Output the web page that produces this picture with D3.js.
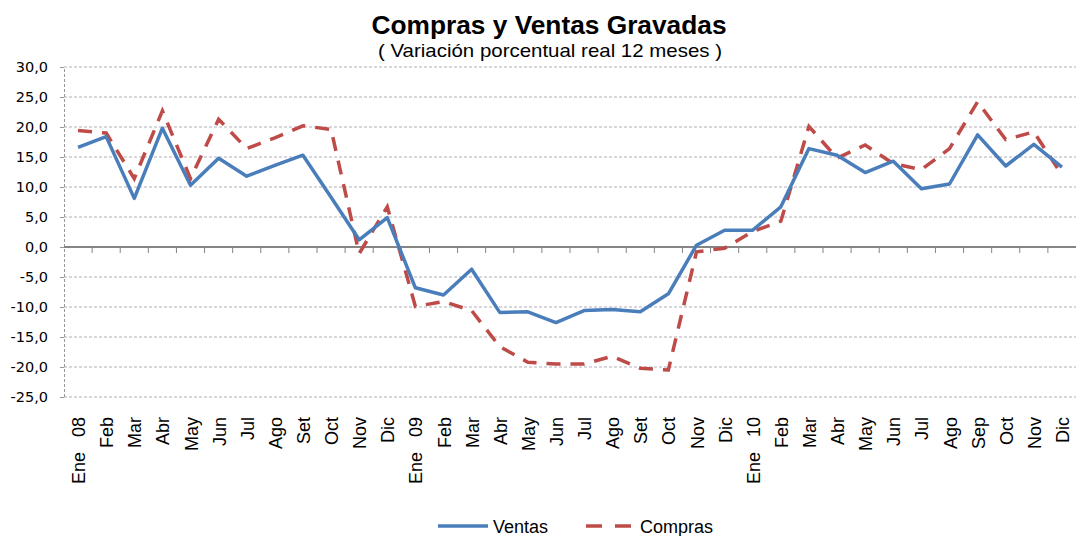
<!DOCTYPE html>
<html>
<head>
<meta charset="utf-8">
<script src="https://cdn.jsdelivr.net/npm/d3@7"></script>
<style>
    body { margin: 0; background: #fff; }
    text { font-family: Arial, "Liberation Sans", sans-serif; fill: #000; }
</style>
</head>
<body>
<svg id="chart"></svg>
<script>
const months = ["Ene   08", "Feb", "Mar", "Abr", "May", "Jun", "Jul", "Ago", "Set", "Oct", "Nov", "Dic",
    "Ene   09", "Feb", "Mar", "Abr", "May", "Jun", "Jul", "Ago", "Set", "Oct", "Nov", "Dic",
    "Ene   10", "Feb", "Mar", "Abr", "May", "Jun", "Jul", "Ago", "Sep", "Oct", "Nov", "Dic"];

const ventas = [16.6, 18.4, 8.1, 19.8, 10.3, 14.8, 11.8, 13.6, 15.3, 8.3, 1.2, 4.9,
    -6.8, -8.0, -3.7, -10.9, -10.8, -12.6, -10.6, -10.4, -10.8, -7.8, 0.3, 2.8,
    2.8, 6.7, 16.4, 15.3, 12.4, 14.3, 9.7, 10.5, 18.7, 13.5, 17.1, 13.3];

const compras = [19.4, 19.0, 11.4, 22.7, 11.4, 21.3, 16.4, 18.2, 20.2, 19.6, -1.1, 6.7,
    -9.9, -9.1, -10.6, -16.6, -19.2, -19.5, -19.5, -18.2, -20.2, -20.5, -0.8, -0.2,
    2.6, 4.3, 20.1, 14.8, 17.0, 13.9, 12.9, 16.4, 24.2, 17.9, 19.2, 12.0];

const yTicks = [30, 25, 20, 15, 10, 5, 0, -5, -10, -15, -20, -25];

const width = 1076, height = 536;
const margin = { top: 67, right: 0, bottom: 139, left: 64 };

const svg = d3.select("#chart").attr("width", width).attr("height", height);

const x = d3.scaleBand()
    .domain(d3.range(months.length))
    .range([margin.left, width - margin.right])
    .padding(0);

const y = d3.scaleLinear()
    .domain([-25, 30])
    .range([height - margin.bottom, margin.top]);

const fmt = v => v.toFixed(1).replace(".", ",");

// titulo
svg.append("text")
    .attr("x", 549).attr("y", 34)
    .attr("text-anchor", "middle")
    .attr("textLength", 355).attr("lengthAdjust", "spacingAndGlyphs")
    .style("font-size", "25px").style("font-weight", "bold")
    .text("Compras y Ventas Gravadas");
svg.append("text")
    .attr("x", 550).attr("y", 57)
    .attr("text-anchor", "middle")
    .attr("textLength", 344).attr("lengthAdjust", "spacingAndGlyphs")
    .style("font-size", "19px")
    .text("( Variación porcentual real 12 meses )");

// grid
svg.append("g")
    .selectAll("line")
    .data(yTicks.filter(d => d !== 0))
    .join("line")
    .attr("x1", margin.left).attr("x2", width - margin.right)
    .attr("y1", d => y(d)).attr("y2", d => y(d))
    .attr("stroke", "#b0b0b8")
    .attr("stroke-width", 1)
    .attr("stroke-dasharray", "3,2");

// eje y
const yAxis = svg.append("g")
    .attr("transform", `translate(${margin.left},0)`)
    .call(d3.axisLeft(y).tickValues(yTicks).tickFormat(fmt).tickSize(4).tickPadding(12));
yAxis.select(".domain").attr("stroke", "#999").attr("stroke-dasharray", "3,2");
yAxis.selectAll(".tick line").attr("stroke", "#999");
yAxis.selectAll("text")
    .style("font-size", "14.5px")
    .style("font-family", "'DejaVu Sans', Verdana, sans-serif")
    .style("fill", "#000");

// eje x sobre el cero
const xAxis = svg.append("g")
    .attr("transform", `translate(0,${y(0)})`);
xAxis.append("line")
    .attr("x1", margin.left).attr("x2", width - margin.right)
    .attr("y1", 0).attr("y2", 0)
    .attr("stroke", "#858585").attr("stroke-width", 2);
xAxis.selectAll(".tk")
    .data(d3.range(1, months.length))
    .join("line")
    .attr("class", "tk")
    .attr("x1", d => x(d)).attr("x2", d => x(d))
    .attr("y1", 0).attr("y2", 6)
    .attr("stroke", "#858585");

// etiquetas de meses
svg.append("g")
    .selectAll("text")
    .data(months)
    .join("text")
    .attr("transform", (d, i) => `translate(${x(i) + x.bandwidth() / 2 + 7},417) rotate(-90)`)
    .attr("text-anchor", "end")
    .style("font-size", "18px")
    .style("white-space", "pre")
    .text(d => d);

// lineas
const line = d3.line()
    .x((d, i) => x(i) + x.bandwidth() / 2)
    .y(d => y(d));

svg.append("path")
    .datum(compras)
    .attr("fill", "none")
    .attr("stroke", "#BE4B48")
    .attr("stroke-width", 3.5)
    .attr("stroke-dasharray", "14,10")
    .attr("d", line);

svg.append("path")
    .datum(ventas)
    .attr("fill", "none")
    .attr("stroke", "#4A7EBB")
    .attr("stroke-width", 3.5)
    .attr("stroke-linejoin", "round")
    .attr("d", line);

// leyenda
const legend = svg.append("g");
legend.append("line")
    .attr("x1", 438).attr("x2", 488).attr("y1", 526).attr("y2", 526)
    .attr("stroke", "#4A7EBB").attr("stroke-width", 3.5);
legend.append("text")
    .attr("x", 493).attr("y", 533)
    .style("font-size", "18px")
    .text("Ventas");
legend.append("line")
    .attr("x1", 586).attr("x2", 631).attr("y1", 526).attr("y2", 526)
    .attr("stroke", "#BE4B48").attr("stroke-width", 3.5)
    .attr("stroke-dasharray", "16,13");
legend.append("text")
    .attr("x", 640).attr("y", 533)
    .style("font-size", "18px")
    .text("Compras");
</script>
</body>
</html>
